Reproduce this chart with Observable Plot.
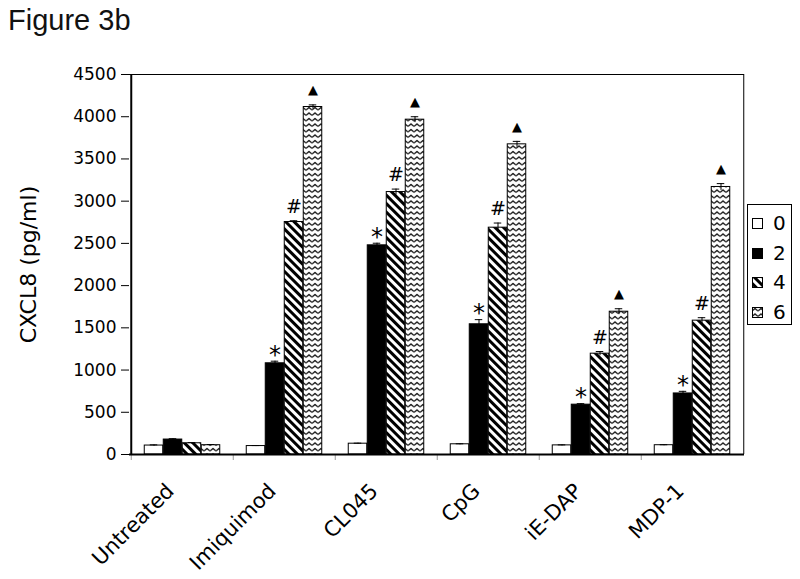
<!DOCTYPE html>
<html><head><meta charset="utf-8">
<script src="https://cdn.jsdelivr.net/npm/d3@7"></script>
<script src="https://cdn.jsdelivr.net/npm/@observablehq/plot@0.6"></script>
<style>
body{margin:0;background:#fff;}
#wrap{position:relative;width:800px;height:579px;overflow:hidden;}
#title{font-family:"Liberation Sans",Arial,sans-serif;font-size:29px;height:40px;line-height:40px;padding-left:8px;color:#111;}
#chart svg{display:block;}
#legend{position:absolute;left:747px;top:204px;width:45px;height:121px;border:1.5px solid #000;box-sizing:border-box;font-family:"DejaVu Sans",Verdana,sans-serif;font-size:20px;background:#fff;}
.lrow{position:absolute;left:0;height:24px;line-height:24px;}
.lrow svg{position:absolute;left:4px;top:7px;}
.lrow span{position:absolute;left:25px;top:0;}
</style></head><body>
<div id="wrap"><div id="title">Figure 3b</div><div id="chart"></div><div id="legend"></div></div>
<script>
const categories = ["Untreated", "Imiquimod", "CL045", "CpG", "iE-DAP", "MDP-1"];
const series = ["0", "2", "4", "6"];
const values0 = [106, 100, 128, 121, 108, 110];
const values2 = [177, 1080, 2477, 1542, 590, 723];
const values4 = [133, 2753, 3108, 2686, 1194, 1585];
const values6 = [110, 4115, 3965, 3673, 1691, 3168];
const errors0 = [8, 6, 6, 6, 6, 6];
const errors2 = [10, 25, 25, 55, 12, 25];
const errors4 = [8, 15, 35, 55, 25, 35];
const errors6 = [8, 25, 35, 35, 35, 40];
const marks0 = ["", "", "", "", "", ""];
const marks2 = ["", "*", "*", "*", "*", "*"];
const marks4 = ["", "#", "#", "#", "#", "#"];
const marks6 = ["", "▲", "▲", "▲", "▲", "▲"];
const yTicks = [0, 500, 1000, 1500, 2000, 2500, 3000, 3500, 4000, 4500];
const fills = ["white", "black", "url(#pDiag)", "url(#pZig)"];

const valueSets = [values0, values2, values4, values6];
const errorSets = [errors0, errors2, errors4, errors6];
const markSets = [marks0, marks2, marks4, marks6];
const rows = [];
series.forEach((s, si) => categories.forEach((c, ci) => rows.push({
  cat: c, series: s, si, value: valueSets[si][ci], err: errorSets[si][ci], sym: markSets[si][ci]
})));

const W = 800, H = 539, mL = 129, mR = 56, mT = 34, mB = 125;
const step = (W - mL - mR) / categories.length;
const barW = 19;
const gap = (step - series.length * barW) / 2;
const symSize = [0, 24, 19, 13];
const symDy = [0, -6, -14, -15];

const perSeries = series.flatMap((s, i) => {
  const inL = gap + barW * i;
  const inR = step - gap - barW * (i + 1);
  const off = -step / 2 + gap + barW * i + barW / 2;
  const f = d => d.series === s;
  const ms = [
    Plot.barY(rows, {filter: f, x: "cat", y: "value", fill: "series", stroke: "black", strokeWidth: 1, insetLeft: inL, insetRight: inR}),
    Plot.ruleX(rows, {filter: f, x: "cat", y1: d => d.value - d.err, y2: d => d.value + d.err, dx: off, stroke: "black", strokeWidth: 1}),
    Plot.tickY(rows, {filter: f, x: "cat", y: d => d.value + d.err, dx: off, stroke: "black", strokeWidth: 1, insetLeft: step / 2 - 4, insetRight: step / 2 - 4})
  ];
  if (i > 0) ms.push(Plot.text(rows, {filter: d => f(d) && d.sym !== "", x: "cat", y: d => d.value + d.err, dx: off, dy: symDy[i], text: "sym", lineAnchor: "middle", fontSize: symSize[i], fill: "black", fontFamily: "DejaVu Sans"}));
  return ms;
});

const chart = Plot.plot({
  width: W, height: H, marginTop: mT, marginBottom: mB, marginLeft: mL, marginRight: mR,
  style: {fontFamily: "DejaVu Sans, Verdana, sans-serif", fontSize: "17px", background: "white", color: "black", overflow: "visible"},
  x: {domain: categories, padding: 0, label: null, tickSize: 0, tickRotate: -45, tickPadding: 12},
  y: {domain: [0, 4500], ticks: yTicks, tickSize: 8, tickPadding: 5, tickFormat: "d", label: null},
  color: {domain: series, range: fills},
  marks: [
    Plot.ruleY([4500], {stroke: "black", strokeWidth: 1}),
    Plot.ruleX(categories, {x: d => d, dx: -step / 2, stroke: "#999", strokeWidth: 1, insetTop: H - mT - mB, insetBottom: -6}),
    ...perSeries,
    Plot.ruleX(categories.slice(-1), {x: d => d, dx: step / 2, stroke: "black", strokeWidth: 1}),
    Plot.ruleX(categories.slice(0, 1), {x: d => d, dx: -step / 2, stroke: "black", strokeWidth: 2}),
    Plot.ruleY([0], {stroke: "black", strokeWidth: 2}),
    Plot.text(["CXCL8 (pg/ml)"], {frameAnchor: "left", textAnchor: "middle", text: d => d, rotate: -90, dx: -101, fontSize: 22, fill: "black"})
  ]
});

chart.querySelectorAll('[aria-label^="x-axis"]').forEach(g => g.setAttribute("font-size", "21"));
chart.querySelectorAll('[aria-label^="x-axis"] text').forEach(t => {
  t.setAttribute("font-size", "21");
  const tr = t.getAttribute("transform") || "";
  t.setAttribute("transform", "translate(-12,21) " + tr);
});

const defsMarkup = `<pattern id="pDiag" patternUnits="userSpaceOnUse" width="6" height="6" patternTransform="rotate(-45)"><rect width="6" height="6" fill="white"/><rect width="3" height="6" fill="black"/></pattern>
<pattern id="pZig" patternUnits="userSpaceOnUse" width="6" height="5.5"><rect width="6" height="5.5" fill="white"/><path d="M0,4 L3,1.5 L6,4" fill="none" stroke="black" stroke-width="1.2"/></pattern>`;
const defs = document.createElementNS("http://www.w3.org/2000/svg", "defs");
defs.innerHTML = defsMarkup;
chart.insertBefore(defs, chart.firstChild);
document.getElementById("chart").appendChild(chart);

const legend = document.getElementById("legend");
series.forEach((s, i) => {
  const row = document.createElement("div");
  row.className = "lrow";
  row.style.top = (6 + i * 29.5) + "px";
  row.innerHTML = `<svg width="11" height="11"><rect x="0.5" y="0.5" width="10" height="10" fill="${fills[i]}" stroke="black" stroke-width="1"/></svg><span>${s}</span>`;
  legend.appendChild(row);
});
</script>
</body></html>
